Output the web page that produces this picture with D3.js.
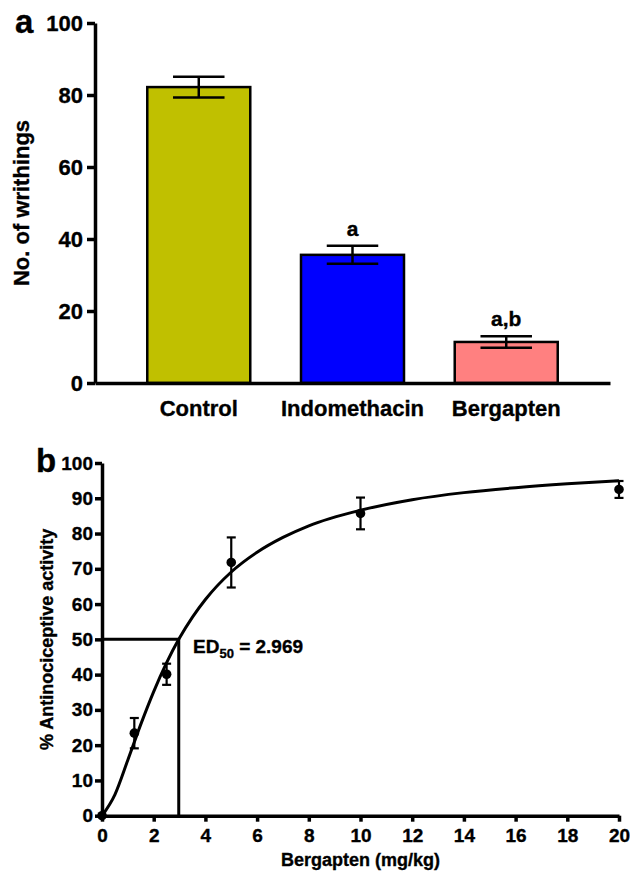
<!DOCTYPE html>
<html>
<head>
<meta charset="utf-8">
<script src="https://cdn.jsdelivr.net/npm/d3@7"></script>
<style>
  body { margin: 0; background: #fff; }
  svg { display: block; }
  text { font-family: "Liberation Sans", Arial, sans-serif; font-weight: bold; fill: #000; stroke: #000; stroke-width: 0.35px; }
</style>
</head>
<body>
<script>
// panel a: writhing counts
var groups = ["Control", "Indomethacin", "Bergapten"];
var means = [82.2, 35.6, 11.4];
var sems = [2.9, 2.5, 1.6];
var sigLabels = ["", "a", "a,b"];
var barColors = ["#c0c000", "#0000ff", "#ff8080"];
var yTicksA = [0, 20, 40, 60, 80, 100];

// panel b: dose response
var doses = [0, 1.25, 2.5, 5, 10, 20];
var activity = [0, 23.4, 40.1, 71.8, 85.7, 92.5];
var activityErr = [0, 4.3, 3.0, 7.1, 4.5, 2.4];
// fitted curve
var fitX = [0, 0.5, 1, 1.5, 2, 2.5, 2.969, 3.5, 4, 5, 6, 7, 8, 10, 12, 14, 16, 18, 20];
var fitY = [0, 6.0, 15.8, 25.9, 35.2, 43.4, 50, 56.3, 61.3, 69.1, 74.7, 78.9, 82.2, 86.6, 89.6, 91.6, 93.0, 94.1, 95.0];
var ed50 = 2.969;
var xTicksB = [0, 2, 4, 6, 8, 10, 12, 14, 16, 18, 20];
var yTicksB = [0, 10, 20, 30, 40, 50, 60, 70, 80, 90, 100];

var W = 630, H = 874;
var svg = d3.select("body").append("svg")
  .attr("width", W).attr("height", H)
  .attr("viewBox", [0, 0, W, H]);

function styleAxis(g) {
  g.select(".domain").style("stroke", "#000").style("stroke-width", "3.5px");
  g.selectAll(".tick line").style("stroke", "#000").style("stroke-width", "3.5px");
}

// ---------- panel a ----------
var xA = d3.scaleBand().domain(groups).range([95, 610])
  .paddingInner(0.33).paddingOuter(0.34);
var yA = d3.scaleLinear().domain([0, 100]).range([383, 23]);

svg.append("text").attr("x", 15).attr("y", 33)
  .style("font-size", "33px").text("a");

var barsA = svg.append("g");
groups.forEach(function(gname, i) {
  barsA.append("rect")
    .attr("x", xA(gname)).attr("y", yA(means[i]))
    .attr("width", xA.bandwidth()).attr("height", yA(0) - yA(means[i]))
    .attr("fill", barColors[i]).style("stroke", "#000").style("stroke-width", "2.5px");
  var cx = xA(gname) + xA.bandwidth() / 2;
  var cap = xA.bandwidth() / 4;
  var eb = barsA.append("g").style("stroke", "#000").style("stroke-width", "2.5px");
  eb.append("line").attr("x1", cx).attr("x2", cx)
    .attr("y1", yA(means[i] + sems[i])).attr("y2", yA(means[i] - sems[i]));
  eb.append("line").attr("x1", cx - cap).attr("x2", cx + cap)
    .attr("y1", yA(means[i] + sems[i])).attr("y2", yA(means[i] + sems[i]));
  eb.append("line").attr("x1", cx - cap).attr("x2", cx + cap)
    .attr("y1", yA(means[i] - sems[i])).attr("y2", yA(means[i] - sems[i]));
  if (sigLabels[i]) {
    barsA.append("text").attr("x", cx).attr("y", yA(means[i] + sems[i]) - 10)
      .attr("text-anchor", "middle").style("font-size", "21px").text(sigLabels[i]);
  }
});

var xAxisA = svg.append("g").attr("transform", "translate(0," + yA(0) + ")")
  .call(d3.axisBottom(xA).tickSize(0).tickSizeOuter(0).tickPadding(17));
xAxisA.selectAll("text").style("font-size", "22px");
styleAxis(xAxisA);

var yAxisA = svg.append("g").attr("transform", "translate(95,0)")
  .call(d3.axisLeft(yA).tickValues(yTicksA).tickSize(8).tickSizeOuter(0).tickPadding(4));
yAxisA.selectAll("text").style("font-size", "22px");
styleAxis(yAxisA);

svg.append("text")
  .attr("transform", "translate(29," + ((yA(0) + yA(100)) / 2) + ") rotate(-90)")
  .attr("text-anchor", "middle").style("font-size", "22px")
  .text("No. of writhings");

// ---------- panel b ----------
var xB = d3.scaleLinear().domain([0, 20]).range([102, 619]);
var yB = d3.scaleLinear().domain([0, 100]).range([815.7, 463]);

svg.append("text").attr("x", 36).attr("y", 472)
  .style("font-size", "33px").text("b");

// ED50 guide lines
svg.append("path")
  .attr("d", d3.line()([[xB(0), yB(50)], [xB(ed50), yB(50)], [xB(ed50), yB(0)]]))
  .attr("fill", "none").style("stroke", "#000").style("stroke-width", "3px");

var fitLine = d3.line()
  .x(function(d, i) { return xB(fitX[i]); })
  .y(function(d, i) { return yB(fitY[i]); })
  .curve(d3.curveMonotoneX);
svg.append("path").attr("d", fitLine(fitX))
  .attr("fill", "none").style("stroke", "#000").style("stroke-width", "3px");

var ptsB = svg.append("g");
doses.forEach(function(d, i) {
  var px = xB(d);
  var eb = ptsB.append("g").style("stroke", "#000").style("stroke-width", "2.2px");
  if (activityErr[i] > 0) {
    eb.append("line").attr("x1", px).attr("x2", px)
      .attr("y1", yB(activity[i] + activityErr[i])).attr("y2", yB(activity[i] - activityErr[i]));
    [activity[i] + activityErr[i], activity[i] - activityErr[i]].forEach(function(v) {
      eb.append("line").attr("x1", px - 4.5).attr("x2", px + 4.5)
        .attr("y1", yB(v)).attr("y2", yB(v));
    });
  }
  ptsB.append("circle").attr("cx", px).attr("cy", yB(activity[i])).attr("r", 4.8).attr("fill", "#000");
});

var xAxisB = svg.append("g").attr("transform", "translate(0," + yB(0) + ")")
  .call(d3.axisBottom(xB).tickValues(xTicksB).tickSize(6).tickSizeOuter(0).tickPadding(7));
xAxisB.selectAll("text").style("font-size", "19px");
styleAxis(xAxisB);

var yAxisB = svg.append("g").attr("transform", "translate(102,0)")
  .call(d3.axisLeft(yB).tickValues(yTicksB).tickSize(7).tickSizeOuter(0).tickPadding(2));
yAxisB.selectAll("text").style("font-size", "19px");
styleAxis(yAxisB);

var ed = svg.append("text").attr("x", 193).attr("y", 653).style("font-size", "19px");
ed.append("tspan").text("ED");
ed.append("tspan").attr("dy", 5).style("font-size", "13px").text("50");
ed.append("tspan").attr("dy", -5).text(" = " + ed50);

svg.append("text")
  .attr("transform", "translate(53," + ((yB(0) + yB(100)) / 2) + ") rotate(-90)")
  .attr("text-anchor", "middle").style("font-size", "18px")
  .text("% Antinociceptive activity");

svg.append("text").attr("x", (xB(0) + xB(20)) / 2).attr("y", 866)
  .attr("text-anchor", "middle").style("font-size", "18px")
  .text("Bergapten (mg/kg)");
</script>
</body>
</html>
